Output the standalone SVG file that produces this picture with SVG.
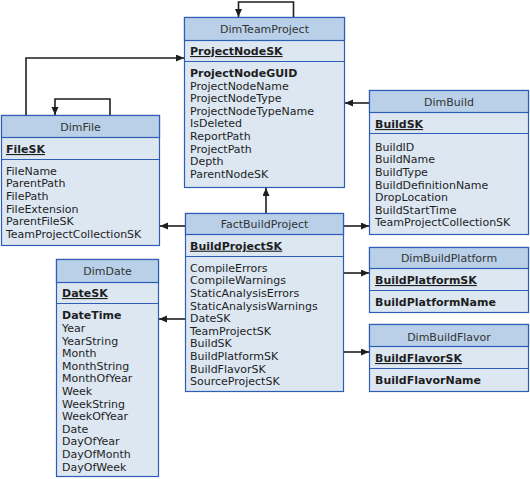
<svg xmlns="http://www.w3.org/2000/svg" width="530" height="479" viewBox="0 0 530 479">
<style>
.hdr{fill:#b9d0e8;stroke:#2f5cb5;stroke-width:1.2}
.bdy{fill:#dce7f2;stroke:#2f5cb5;stroke-width:1.2}
.sep{stroke:#2f5cb5;stroke-width:1.2}
text{font-family:"DejaVu Sans",Verdana,sans-serif;font-size:11px;fill:#1e1e1e}
.t{text-anchor:middle;fill:#333}
.pk{font-weight:bold;text-decoration:underline}
.b{font-weight:bold}
.c{fill:none;stroke:#1e1e1e;stroke-width:1.6}
</style>
<defs>
<marker id="ah" markerUnits="userSpaceOnUse" markerWidth="9" markerHeight="8" refX="8" refY="3.5" orient="auto">
<path d="M0,0 L8,3.5 L0,7 z" fill="#1e1e1e"/>
</marker>
</defs>

<g id="connectors">
<path class="c" d="M293.5 17 V2 H238.5 V17" marker-end="url(#ah)"/>
<path class="c" d="M110 115 V99 H55 V115" marker-end="url(#ah)"/>
<path class="c" d="M26 115 V58 H184" marker-end="url(#ah)"/>
<path class="c" d="M369 103 H345" marker-end="url(#ah)"/>
<path class="c" d="M266 213 V188" marker-end="url(#ah)"/>
<path class="c" d="M185 226 H160" marker-end="url(#ah)"/>
<path class="c" d="M344 226 H369" marker-end="url(#ah)"/>
<path class="c" d="M344 273 H369" marker-end="url(#ah)"/>
<path class="c" d="M185 319 H159" marker-end="url(#ah)"/>
<path class="c" d="M344 352 H369" marker-end="url(#ah)"/>
</g>

<g id="DimTeamProject">
<rect class="bdy" x="184.5" y="17.5" width="160" height="170"/>
<rect class="hdr" x="184.5" y="17.5" width="160" height="23"/>
<line class="sep" x1="184.5" y1="61.5" x2="344.5" y2="61.5"/>
<text class="t" x="264.5" y="33">DimTeamProject</text>
<text class="pk" x="190" y="55">ProjectNodeSK</text>
<text class="b" x="190" y="77">ProjectNodeGUID</text>
<text x="190" y="89.6">ProjectNodeName</text>
<text x="190" y="102.2">ProjectNodeType</text>
<text x="190" y="114.8">ProjectNodeTypeName</text>
<text x="190" y="127.4">IsDeleted</text>
<text x="190" y="140">ReportPath</text>
<text x="190" y="152.6">ProjectPath</text>
<text x="190" y="165.2">Depth</text>
<text x="190" y="177.8">ParentNodeSK</text>
</g>

<g id="DimFile">
<rect class="bdy" x="1.5" y="115.5" width="158" height="130"/>
<rect class="hdr" x="1.5" y="115.5" width="158" height="22"/>
<line class="sep" x1="1.5" y1="159.5" x2="159.5" y2="159.5"/>
<text class="t" x="80.5" y="131">DimFile</text>
<text class="pk" x="6" y="153">FileSK</text>
<text x="6" y="174.7">FileName</text>
<text x="6" y="187.3">ParentPath</text>
<text x="6" y="199.9">FilePath</text>
<text x="6" y="212.5">FileExtension</text>
<text x="6" y="225.1">ParentFileSK</text>
<text x="6" y="237.7">TeamProjectCollectionSK</text>
</g>

<g id="DimBuild">
<rect class="bdy" x="369.5" y="90.5" width="159" height="144"/>
<rect class="hdr" x="369.5" y="90.5" width="159" height="22"/>
<line class="sep" x1="369.5" y1="133.5" x2="528.5" y2="133.5"/>
<text class="t" x="449" y="106">DimBuild</text>
<text class="pk" x="375" y="128">BuildSK</text>
<text x="375" y="150.7">BuildID</text>
<text x="375" y="163.3">BuildName</text>
<text x="375" y="175.9">BuildType</text>
<text x="375" y="188.5">BuildDefinitionName</text>
<text x="375" y="201.1">DropLocation</text>
<text x="375" y="213.7">BuildStartTime</text>
<text x="375" y="226.3">TeamProjectCollectionSK</text>
</g>

<g id="FactBuildProject">
<rect class="bdy" x="185.5" y="213.5" width="158" height="178"/>
<rect class="hdr" x="185.5" y="213.5" width="158" height="21"/>
<line class="sep" x1="185.5" y1="256.5" x2="343.5" y2="256.5"/>
<text class="t" x="264.5" y="228">FactBuildProject</text>
<text class="pk" x="190" y="249.7">BuildProjectSK</text>
<text x="190" y="271.7">CompileErrors</text>
<text x="190" y="284.3">CompileWarnings</text>
<text x="190" y="296.9">StaticAnalysisErrors</text>
<text x="190" y="309.5">StaticAnalysisWarnings</text>
<text x="190" y="322.1">DateSK</text>
<text x="190" y="334.7">TeamProjectSK</text>
<text x="190" y="347.3">BuildSK</text>
<text x="190" y="359.9">BuildPlatformSK</text>
<text x="190" y="372.5">BuildFlavorSK</text>
<text x="190" y="385.1">SourceProjectSK</text>
</g>

<g id="DimBuildPlatform">
<rect class="bdy" x="369.5" y="247.5" width="159" height="65"/>
<rect class="hdr" x="369.5" y="247.5" width="159" height="21"/>
<line class="sep" x1="369.5" y1="290.5" x2="528.5" y2="290.5"/>
<text class="t" x="449" y="262">DimBuildPlatform</text>
<text class="pk" x="375" y="284">BuildPlatformSK</text>
<text class="b" x="375" y="306">BuildPlatformName</text>
</g>

<g id="DimBuildFlavor">
<rect class="bdy" x="369.5" y="324.5" width="159" height="67"/>
<rect class="hdr" x="369.5" y="324.5" width="159" height="22"/>
<line class="sep" x1="369.5" y1="368.5" x2="528.5" y2="368.5"/>
<text class="t" x="449" y="340.5">DimBuildFlavor</text>
<text class="pk" x="375" y="362">BuildFlavorSK</text>
<text class="b" x="375" y="384">BuildFlavorName</text>
</g>

<g id="DimDate">
<rect class="bdy" x="56.5" y="259.5" width="102" height="217"/>
<rect class="hdr" x="56.5" y="259.5" width="102" height="23"/>
<line class="sep" x1="56.5" y1="303.5" x2="158.5" y2="303.5"/>
<text class="t" x="107.5" y="275">DimDate</text>
<text class="pk" x="62" y="297">DateSK</text>
<text class="b" x="62" y="319.3">DateTime</text>
<text x="62" y="331.9">Year</text>
<text x="62" y="344.5">YearString</text>
<text x="62" y="357.1">Month</text>
<text x="62" y="369.7">MonthString</text>
<text x="62" y="382.3">MonthOfYear</text>
<text x="62" y="394.9">Week</text>
<text x="62" y="407.5">WeekString</text>
<text x="62" y="420.1">WeekOfYear</text>
<text x="62" y="432.7">Date</text>
<text x="62" y="445.3">DayOfYear</text>
<text x="62" y="457.9">DayOfMonth</text>
<text x="62" y="470.5">DayOfWeek</text>
</g>
</svg>
